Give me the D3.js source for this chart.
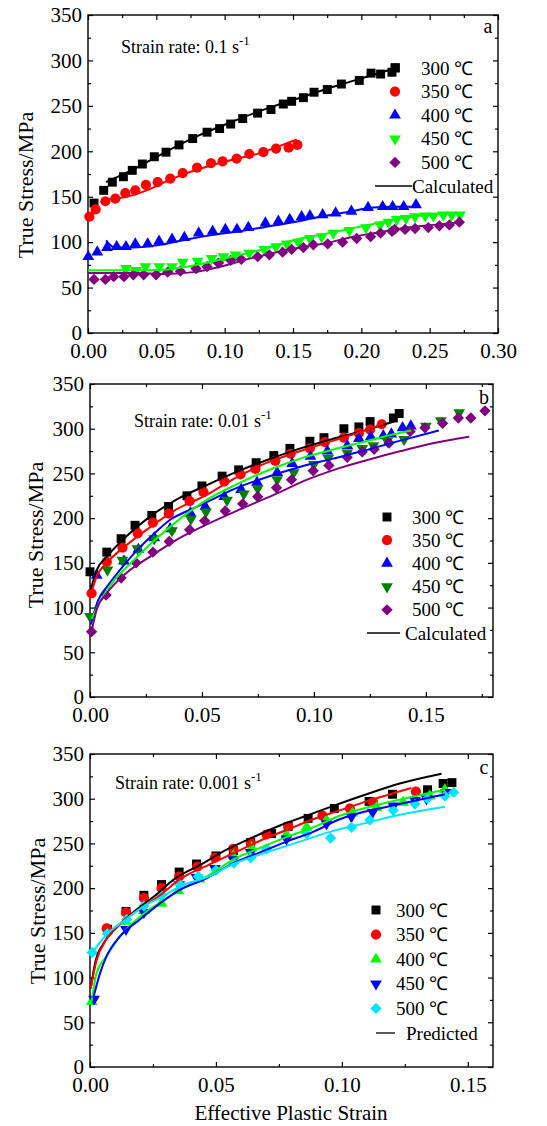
<!DOCTYPE html>
<html>
<head>
<meta charset="utf-8">
<script src="https://d3js.org/d3.v7.min.js"></script>
<style>
  body { margin: 0; background: #fff; }
  svg text { font-family: "Liberation Serif", "Times New Roman", serif; fill: #000; }
</style>
</head>
<body>
<svg id="fig" width="547" height="1126"></svg>
<script>
// data: [effective plastic strain, true stress (MPa)]

// (a) strain rate 0.1 s-1
var a300 = [[0.0044,143],[0.0115,157],[0.0178,166],[0.0259,172],[0.0324,179],[0.0398,186],[0.0485,194],[0.0571,199],[0.0666,207],[0.0766,214],[0.0871,221],[0.0963,225],[0.1044,230],[0.1132,236],[0.1241,242],[0.1339,246],[0.1429,252],[0.149,255],[0.1576,259],[0.1654,265],[0.1751,268],[0.1854,274],[0.1985,278],[0.2071,286],[0.2141,285],[0.2224,287],[0.2249,292]];
var a300Calc = [[0.0132,166],[0.0332,180],[0.0576,200],[0.082,218],[0.1063,233],[0.1307,247],[0.1551,259],[0.1795,271],[0.2039,282],[0.2259,292]];
var a350 = [[0.001,128],[0.0056,136],[0.0127,145],[0.02,148],[0.0273,154],[0.0346,157],[0.0424,163],[0.051,166],[0.0602,170],[0.0693,176],[0.0798,182],[0.09,187],[0.0985,189],[0.1088,192],[0.118,197],[0.1283,199],[0.1376,203],[0.1468,204],[0.1532,207]];
var a350Calc = [[0.0132,147],[0.0283,150],[0.0429,157],[0.0576,167],[0.0722,176],[0.0868,183],[0.1063,191],[0.1259,198],[0.1405,206],[0.1527,213]];
var a400 = [[0.0002,84],[0.0068,89],[0.0139,94],[0.021,95],[0.0278,95],[0.0346,98],[0.0437,98],[0.052,101],[0.0615,103],[0.0705,105],[0.081,110],[0.0912,112],[0.1005,114],[0.109,114],[0.1173,116],[0.1298,121],[0.1393,123],[0.1476,125],[0.1563,128],[0.1624,129],[0.1717,130],[0.1812,132],[0.1927,134],[0.2049,138],[0.2156,139],[0.2229,139],[0.231,139],[0.24,141]];
var a400Calc = [[0.0132,102],[0.0198,94],[0.0332,94],[0.0527,97],[0.0722,103],[0.0917,108],[0.1112,112],[0.1307,117],[0.1502,122],[0.1698,128],[0.1893,133],[0.2088,138],[0.2234,139],[0.238,139]];
var a450 = [[0.0278,71],[0.0351,69],[0.042,73],[0.0522,73],[0.0615,73],[0.0693,78],[0.0802,79],[0.0905,82],[0.099,84],[0.108,86],[0.118,88],[0.129,92],[0.1376,95],[0.1454,98],[0.1539,100],[0.1624,104],[0.171,106],[0.1795,110],[0.1912,113],[0.2034,116],[0.2137,119],[0.2198,122],[0.2259,125],[0.2327,126],[0.2393,128],[0.2468,129],[0.2527,129],[0.26,130],[0.2661,130],[0.2722,130]];
var a450Calc = [[0,69],[0.0332,69],[0.0576,70],[0.0722,73],[0.0917,79],[0.1112,86],[0.1307,93],[0.1502,102],[0.1698,108],[0.1893,114],[0.2088,120],[0.2283,126],[0.2478,130],[0.2722,132]];
var a500 = [[0.0044,59],[0.0127,59],[0.0188,62],[0.0263,62],[0.0332,64],[0.0407,64],[0.0498,64],[0.0583,67],[0.0676,68],[0.079,71],[0.0871,73],[0.0954,77],[0.1044,80],[0.1122,81],[0.1241,84],[0.1327,86],[0.1424,89],[0.149,92],[0.1576,94],[0.1649,97],[0.1754,98],[0.1863,100],[0.1966,104],[0.2068,106],[0.2141,110],[0.2224,112],[0.2244,114],[0.232,114],[0.2393,115],[0.249,116],[0.2571,118],[0.2644,119],[0.2717,122]];
var a500Calc = [[0,66],[0.0332,66],[0.0576,65],[0.0771,67],[0.0966,73],[0.1161,81],[0.1356,88],[0.1551,94],[0.1746,99],[0.1941,106],[0.2137,111],[0.2332,116],[0.2527,119],[0.2722,122]];

// (b) strain rate 0.01 s-1
var b300 = [[0,140],[0.0075,162],[0.0139,177],[0.0201,192],[0.0276,203],[0.0351,213],[0.0433,225],[0.05,236],[0.059,247],[0.0664,254],[0.0742,262],[0.0821,270],[0.0893,278],[0.0982,286],[0.1045,290],[0.1134,300],[0.1201,302],[0.1251,308],[0.1355,312],[0.1381,317]];
var b300Calc = [[0.0003,120],[0.003,142],[0.0075,157],[0.0164,180],[0.0269,202],[0.0388,221],[0.0522,237],[0.0657,252],[0.0791,265],[0.094,278],[0.109,289],[0.1239,299],[0.1358,308]];
var b350 = [[0.0007,116],[0.0075,151],[0.0145,167],[0.0213,183],[0.0281,195],[0.0352,205],[0.0445,219],[0.0507,229],[0.06,241],[0.0672,249],[0.0739,255],[0.0828,264],[0.0896,272],[0.0982,278],[0.1049,285],[0.1134,290],[0.1201,295],[0.1251,299],[0.1303,305]];
var b350Calc = [[0.0003,114],[0.003,135],[0.0075,150],[0.0164,170],[0.0269,190],[0.0388,210],[0.0522,226],[0.0642,244],[0.0791,262],[0.094,275],[0.109,287],[0.1239,299],[0.1313,306]];
var b400 = [[0.003,136],[0.0152,152],[0.0216,165],[0.0287,178],[0.0358,188],[0.0448,206],[0.0515,213],[0.06,224],[0.0675,232],[0.0746,240],[0.0836,251],[0.0903,261],[0.0985,269],[0.106,275],[0.1149,281],[0.1201,289],[0.1254,291],[0.131,292],[0.1346,294],[0.1396,301],[0.1433,303]];
var b400Calc = [[0.0004,81],[0.0036,108],[0.0078,124],[0.015,147],[0.0221,167],[0.0292,184],[0.0363,199],[0.0435,208],[0.0506,216],[0.0648,233],[0.0791,246],[0.0933,257],[0.1076,266],[0.1218,275],[0.1361,285],[0.1558,298]];
var b450 = [[0,90],[0.0078,142],[0.0145,153],[0.0212,166],[0.0287,177],[0.0366,186],[0.0451,199],[0.0518,207],[0.0612,220],[0.0687,227],[0.0749,233],[0.0836,243],[0.091,251],[0.1,260],[0.1064,267],[0.1149,273],[0.1216,278],[0.1266,281],[0.1328,286],[0.1403,288],[0.15,303],[0.1567,309],[0.1649,318]];
var b450Calc = [[0.0007,87],[0.005,109],[0.0107,130],[0.0192,152],[0.0292,176],[0.0406,200],[0.0506,218],[0.0648,237],[0.0791,253],[0.0933,266],[0.1076,276],[0.1218,285],[0.1361,294],[0.1435,298]];
var b500 = [[0.0007,73],[0.0072,114],[0.0139,133],[0.0206,150],[0.0281,162],[0.0354,174],[0.0445,187],[0.0512,197],[0.0604,208],[0.0682,216],[0.0749,224],[0.0833,234],[0.09,243],[0.0997,253],[0.1067,259],[0.1149,268],[0.1216,274],[0.1269,277],[0.1336,284],[0.143,297],[0.1496,301],[0.1575,306],[0.1645,312],[0.1701,312],[0.1764,320]];
var b500Calc = [[0.0007,73],[0.003,98],[0.0075,116],[0.0164,139],[0.0269,157],[0.0388,176],[0.0522,193],[0.0672,210],[0.0821,226],[0.097,243],[0.109,254],[0.1239,265],[0.1388,275],[0.1537,284],[0.1694,291]];

// (c) strain rate 0.001 s-1
var c300 = [[0.007,154],[0.0143,174],[0.0214,192],[0.0284,204],[0.0354,218],[0.0423,227],[0.05,236],[0.0569,242],[0.0638,251],[0.0721,261],[0.0787,269],[0.0866,278],[0.097,289],[0.1108,297],[0.1201,305],[0.134,310],[0.1402,317],[0.1437,318]];
var c300Calc = [[0.0003,88],[0.002,116],[0.0053,138],[0.0106,156],[0.0172,173],[0.0251,190],[0.0344,212],[0.0437,226],[0.0542,243],[0.0648,257],[0.0754,270],[0.086,281],[0.0966,292],[0.1098,305],[0.123,317],[0.1396,328]];
var c350 = [[0.0066,155],[0.0143,173],[0.0214,189],[0.0284,200],[0.0354,213],[0.0426,224],[0.0496,234],[0.0569,244],[0.0638,251],[0.0701,260],[0.0787,269],[0.0923,281],[0.1032,289],[0.1124,296],[0.1294,308]];
var c350Calc = [[0.0003,88],[0.0026,119],[0.0066,143],[0.0119,160],[0.0198,177],[0.0278,192],[0.0357,210],[0.0463,225],[0.0569,239],[0.0675,253],[0.078,265],[0.0886,277],[0.0992,287],[0.1098,297],[0.1276,312]];
var c400 = [[0.0007,73],[0.0143,163],[0.0214,175],[0.0284,183],[0.0351,197],[0.0434,210],[0.0569,236],[0.0642,245],[0.078,260],[0.086,268],[0.0939,276],[0.1042,284],[0.1138,290],[0.1243,296],[0.1349,303],[0.1409,310]];
var c400Calc = [[0.0007,73],[0.0026,105],[0.0066,124],[0.0119,146],[0.0198,168],[0.0278,184],[0.0357,198],[0.0463,213],[0.0569,232],[0.0675,245],[0.078,257],[0.0886,268],[0.0992,281],[0.1098,290],[0.123,299],[0.1409,310]];
var c450 = [[0.0016,76],[0.0143,154],[0.0214,173],[0.0354,204],[0.0423,212],[0.0496,222],[0.0569,232],[0.0638,240],[0.078,255],[0.0939,272],[0.1038,280],[0.1122,285],[0.1204,292],[0.129,298],[0.1336,300],[0.1413,307]];
var c450Calc = [[0.0013,77],[0.004,105],[0.0066,124],[0.0119,146],[0.0198,165],[0.0278,183],[0.0357,198],[0.0463,211],[0.0569,228],[0.0675,240],[0.078,252],[0.0886,263],[0.0992,277],[0.1098,286],[0.123,294],[0.1409,305]];
var c500 = [[0.0009,128],[0.0069,149],[0.0146,165],[0.0214,180],[0.0284,192],[0.0357,204],[0.043,213],[0.05,220],[0.0571,228],[0.0638,234],[0.0701,244],[0.086,261],[0.0955,256],[0.1038,268],[0.1111,276],[0.1204,287],[0.129,294],[0.134,300],[0.1409,303],[0.1444,307]];
var c500Calc = [[0.0009,128],[0.0069,149],[0.0143,165],[0.0214,180],[0.0284,190],[0.0357,202],[0.0463,212],[0.0569,227],[0.0701,240],[0.0833,252],[0.0966,264],[0.1098,273],[0.123,282],[0.1409,291]];

var tempLabels = ["300 ℃", "350 ℃", "400 ℃", "450 ℃", "500 ℃"];
var yTicks = [0, 50, 100, 150, 200, 250, 300, 350];
var yMinor = [25, 75, 125, 175, 225, 275, 325];

var svg = d3.select("#fig");
var serif = "'Liberation Serif', 'Times New Roman', serif";

var sqr = d3.symbol().type(d3.symbolSquare).size(80);
var circ = d3.symbol().type(d3.symbolCircle).size(82);
var tri = d3.symbol().type(d3.symbolTriangle).size(60);
var dia = d3.symbol().type(d3.symbolSquare).size(64);
// shape, rotation
var shapes = [[sqr, 0], [circ, 0], [tri, 0], [tri, 180], [dia, 45]];

var panels = [
  { left: 88, right: 498, top: 15, bottom: 333, xmax: 0.30,
    xt: [0, 0.05, 0.10, 0.15, 0.20, 0.25, 0.30], xm: [0.025, 0.075, 0.125, 0.175, 0.225, 0.275],
    pts: [a300, a350, a400, a450, a500], fits: [a300Calc, a350Calc, a400Calc, a450Calc, a500Calc],
    mc: ["#000", "#ff0000", "#0000ff", "#00ff00", "#800080"],
    lc: ["#000", "#ff0000", "#0000ff", "#00ff00", "#800080"],
    rate: "0.1", rx: 121, ry: 53, letter: "a", lx: 488, ly: 33,
    legMx: 395, legTx: 421, legY: 68, legDy: 23.6, legL: [375, 412], legTx2: 412, fitName: "Calculated",
    ytx: 25, yty: 185 },
  { left: 90, right: 493, top: 384, bottom: 697, xmax: 0.18,
    xt: [0, 0.05, 0.10, 0.15], xm: [0.025, 0.075, 0.125, 0.175],
    pts: [b300, b350, b400, b450, b500], fits: [b300Calc, b350Calc, b400Calc, b450Calc, b500Calc],
    mc: ["#000", "#ff0000", "#0000ff", "#007f00", "#800080"],
    lc: ["#000", "#ff0000", "#0000ff", "#00ff00", "#800080"],
    rate: "0.01", rx: 134, ry: 427, letter: "b", lx: 484, ly: 404,
    legMx: 387, legTx: 412, legY: 517, legDy: 23.2, legL: [367, 400], legTx2: 405, fitName: "Calculated",
    ytx: 35, yty: 535 },
  { left: 90, right: 493, top: 754, bottom: 1067, xmax: 0.16,
    xt: [0, 0.05, 0.10, 0.15], xm: [0.025, 0.075, 0.125],
    pts: [c300, c350, c400, c450, c500], fits: [c300Calc, c350Calc, c400Calc, c450Calc, c500Calc],
    mc: ["#000", "#ff0000", "#00ff00", "#0000ff", "#00e5ff"],
    lc: ["#000", "#ff0000", "#00ff00", "#0000ff", "#00e5ff"],
    rate: "0.001", rx: 115, ry: 789, letter: "c", lx: 484, ly: 774,
    legMx: 376, legTx: 396, legY: 910, legDy: 24.6, legL: [376, 395], legTx2: 406, fitName: "Predicted",
    ytx: 37, yty: 911 }
];

panels.forEach(function(p) {
  var x = d3.scaleLinear().domain([0, p.xmax]).range([p.left, p.right]);
  var y = d3.scaleLinear().domain([0, 350]).range([p.bottom, p.top]);
  var g = svg.append("g");

  // axes, ticks pointing inward on all four sides
  function ax(axis, tr, fmt, size, pad) {
    var a = g.append("g").attr("transform", tr)
      .call(axis.tickFormat(fmt).tickSize(size).tickPadding(pad));
    a.attr("font-family", null);
    a.select(".domain").remove();
    a.selectAll("line").attr("stroke", "#000").attr("stroke-width", 1.2);
    a.selectAll("text").style("font-family", serif).style("font-size", "21px");
    return a;
  }
  var none = function() { return ""; };
  ax(d3.axisBottom(x).tickValues(p.xt), "translate(0," + p.bottom + ")", d3.format(".2f"), -5, 10);
  ax(d3.axisBottom(x).tickValues(p.xm), "translate(0," + p.bottom + ")", none, -3, 0);
  ax(d3.axisTop(x).tickValues(p.xt), "translate(0," + p.top + ")", none, -5, 0);
  ax(d3.axisTop(x).tickValues(p.xm), "translate(0," + p.top + ")", none, -3, 0);
  ax(d3.axisLeft(y).tickValues(yTicks), "translate(" + p.left + ",0)", d3.format("d"), -5, 6);
  ax(d3.axisLeft(y).tickValues(yMinor), "translate(" + p.left + ",0)", none, -3, 0);
  ax(d3.axisRight(y).tickValues(yTicks), "translate(" + p.right + ",0)", none, -5, 0);
  ax(d3.axisRight(y).tickValues(yMinor), "translate(" + p.right + ",0)", none, -3, 0);

  g.append("rect")
    .attr("x", p.left).attr("y", p.top)
    .attr("width", p.right - p.left).attr("height", p.bottom - p.top)
    .attr("fill", "none").attr("stroke", "#000").attr("stroke-width", 1.4);

  // measured points
  p.pts.forEach(function(data, i) {
    g.append("g").selectAll("path")
      .data(data)
      .enter().append("path")
        .attr("d", shapes[i][0])
        .attr("transform", function(d) {
          return "translate(" + x(d[0]) + "," + y(d[1]) + ") rotate(" + shapes[i][1] + ")";
        })
        .attr("fill", p.mc[i]);
  });

  // model curves
  var line = d3.line()
    .x(function(d) { return x(d[0]); })
    .y(function(d) { return y(d[1]); })
    .curve(d3.curveMonotoneX);
  p.fits.forEach(function(data, i) {
    g.append("path")
      .datum(data)
      .attr("d", line)
      .attr("fill", "none")
      .attr("stroke", p.lc[i])
      .attr("stroke-width", 2);
  });

  // legend
  tempLabels.forEach(function(t, i) {
    var yy = p.legY + i * p.legDy;
    g.append("path")
      .attr("d", shapes[i][0])
      .attr("transform", "translate(" + p.legMx + "," + yy + ") rotate(" + shapes[i][1] + ")")
      .attr("fill", p.mc[i]);
    g.append("text")
      .attr("x", p.legTx).attr("y", yy).attr("dy", "0.35em")
      .attr("font-size", 19)
      .text(t);
  });
  var yl = p.legY + 5 * p.legDy;
  g.append("line")
    .attr("x1", p.legL[0]).attr("x2", p.legL[1]).attr("y1", yl).attr("y2", yl)
    .attr("stroke", "#000").attr("stroke-width", 1.3);
  g.append("text")
    .attr("x", p.legTx2).attr("y", yl).attr("dy", "0.35em")
    .attr("font-size", 19)
    .text(p.fitName);

  // strain rate note
  var note = g.append("text").attr("x", p.rx).attr("y", p.ry).attr("font-size", 18);
  note.append("tspan").text("Strain rate: " + p.rate + " s");
  note.append("tspan").attr("dy", -8).attr("font-size", 13).text("-1");

  g.append("text")
    .attr("x", p.lx).attr("y", p.ly)
    .attr("text-anchor", "middle")
    .attr("font-size", 20)
    .text(p.letter);

  // y axis title
  g.append("text")
    .attr("transform", "translate(" + p.ytx + "," + p.yty + ") rotate(-90)")
    .attr("text-anchor", "middle")
    .attr("dy", "0.35em")
    .attr("font-size", 22)
    .text("True Stress/MPa");
});

svg.append("text")
  .attr("x", 291).attr("y", 1120)
  .attr("text-anchor", "middle")
  .attr("font-size", 21)
  .text("Effective Plastic Strain");
</script>
</body>
</html>
